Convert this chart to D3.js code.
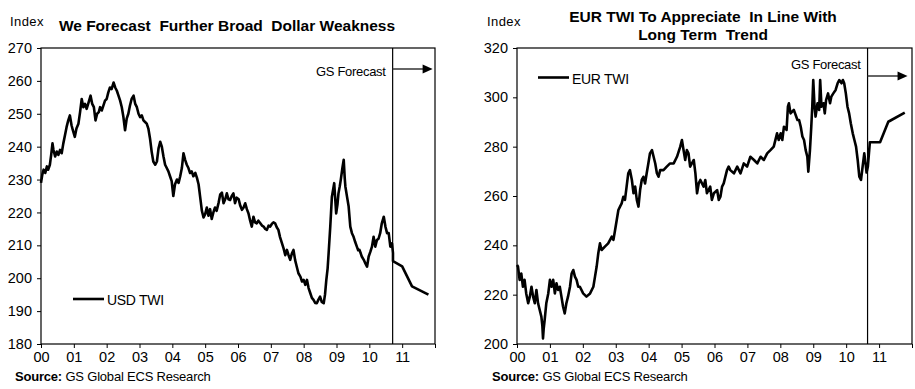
<!DOCTYPE html>
<html>
<head>
<meta charset="utf-8">
<script src="https://cdn.jsdelivr.net/npm/d3@7"></script>
<style>
  body { margin: 0; background: #fff; }
  svg { display: block; font-family: Arial, "Liberation Sans", sans-serif; }
</style>
</head>
<body>
<div id="grafico"></div>
<script>
// anos em fração desde 2000 (0 = jan/2000)
const usdAnos = [0.00,0.04,0.08,0.13,0.18,0.22,0.27,0.31,0.35,0.38,0.43,0.48,0.53,0.58,0.63,0.68,0.73,0.78,0.83,0.88,0.93,0.97,1.03,1.08,1.14,1.19,1.24,1.29,1.34,1.39,1.45,1.51,1.56,1.61,1.66,1.71,1.76,1.80,1.85,1.90,1.95,2.00,2.05,2.10,2.15,2.21,2.26,2.31,2.36,2.41,2.46,2.51,2.56,2.61,2.66,2.71,2.76,2.82,2.87,2.92,2.97,3.02,3.07,3.12,3.17,3.22,3.27,3.32,3.37,3.42,3.48,3.53,3.58,3.63,3.68,3.73,3.78,3.83,3.88,3.93,3.98,4.03,4.08,4.14,4.19,4.24,4.29,4.34,4.39,4.44,4.49,4.54,4.59,4.64,4.70,4.75,4.80,4.85,4.90,4.95,5.00,5.05,5.10,5.15,5.20,5.25,5.30,5.35,5.41,5.46,5.51,5.56,5.61,5.66,5.71,5.76,5.81,5.86,5.91,5.96,6.02,6.07,6.12,6.17,6.22,6.27,6.32,6.37,6.42,6.47,6.52,6.57,6.62,6.68,6.73,6.78,6.83,6.88,6.93,6.98,7.03,7.08,7.13,7.18,7.23,7.28,7.34,7.39,7.44,7.49,7.54,7.59,7.64,7.69,7.74,7.79,7.84,7.90,7.95,8.00,8.05,8.10,8.15,8.20,8.25,8.30,8.35,8.40,8.45,8.50,8.55,8.61,8.65,8.69,8.73,8.76,8.81,8.86,8.93,8.99,9.03,9.06,9.10,9.13,9.18,9.22,9.25,9.27,9.32,9.37,9.42,9.47,9.52,9.57,9.62,9.66,9.70,9.74,9.77,9.83,9.88,9.93,9.98,10.03,10.08,10.13,10.18,10.23,10.28,10.33,10.38,10.44,10.49,10.54,10.59,10.64,10.69,10.72];
const usdValores = [229.0,231.5,233.0,232.0,234.0,233.0,234.5,237.5,241.0,239.0,237.0,238.5,237.5,239.0,238.0,241.0,243.5,246.0,248.0,249.5,246.5,245.0,243.0,245.5,247.0,250.5,254.5,252.0,253.0,251.5,253.5,255.5,253.0,252.0,248.0,250.0,250.5,252.0,251.0,252.5,254.0,254.5,256.5,258.0,257.5,259.5,258.0,257.0,255.5,254.0,252.0,249.0,245.0,248.5,250.0,252.5,254.5,255.5,253.0,252.0,250.0,249.0,249.5,248.0,247.5,247.0,245.5,242.5,238.5,235.5,234.5,235.5,239.5,241.5,240.0,237.0,234.5,233.5,232.5,231.0,229.5,225.0,228.5,230.0,229.0,231.0,233.5,238.0,236.0,234.5,233.5,232.0,232.5,231.0,232.0,230.5,228.5,224.5,220.5,218.5,219.5,221.5,219.0,221.0,218.0,220.0,221.5,220.5,223.0,225.5,226.0,222.8,224.0,225.8,224.0,223.8,225.0,225.8,222.8,224.5,224.0,222.0,220.8,221.5,222.8,221.0,219.7,217.5,215.7,218.7,217.0,216.7,217.5,216.7,216.0,215.7,215.0,214.7,216.0,215.7,216.5,217.0,216.7,215.5,214.7,212.5,210.6,209.0,207.0,208.6,207.0,205.6,207.5,208.6,205.5,203.5,201.5,200.5,199.0,199.5,198.0,199.5,197.0,195.5,194.0,193.4,192.5,192.4,193.5,194.4,192.8,192.4,195.0,199.5,203.0,207.6,215.7,224.8,228.9,219.7,222.5,225.8,228.0,229.9,233.5,236.0,230.5,227.9,224.8,221.8,215.7,213.7,212.6,211.0,209.6,208.5,208.6,207.5,206.6,205.6,204.5,203.5,206.6,208.0,209.6,212.6,209.6,211.6,212.0,213.7,216.7,218.7,215.7,213.7,213.7,209.6,210.6,207.6];
const usdPrevAnos = [10.72, 11.00, 11.30, 11.80];
const usdPrevValores = [205.2, 203.6, 197.5, 195.0];

const eurAnos = [0.00,0.03,0.08,0.13,0.18,0.23,0.28,0.34,0.39,0.44,0.49,0.54,0.59,0.64,0.69,0.74,0.77,0.79,0.81,0.84,0.89,0.95,1.00,1.05,1.10,1.15,1.20,1.25,1.30,1.35,1.40,1.45,1.50,1.55,1.61,1.66,1.71,1.76,1.81,1.86,1.91,2.01,2.11,2.22,2.32,2.37,2.42,2.47,2.52,2.57,2.67,2.77,2.88,2.93,2.98,3.03,3.08,3.13,3.18,3.23,3.28,3.33,3.38,3.43,3.49,3.54,3.59,3.64,3.69,3.74,3.79,3.84,3.89,3.94,3.99,4.04,4.10,4.15,4.20,4.25,4.30,4.35,4.45,4.55,4.65,4.76,4.86,4.96,5.01,5.06,5.11,5.16,5.21,5.26,5.37,5.42,5.47,5.52,5.57,5.67,5.72,5.77,5.87,5.92,5.98,6.08,6.13,6.18,6.23,6.28,6.38,6.43,6.48,6.59,6.69,6.79,6.89,6.99,7.09,7.20,7.30,7.40,7.50,7.60,7.70,7.80,7.90,7.95,8.01,8.06,8.11,8.19,8.23,8.26,8.31,8.41,8.52,8.57,8.62,8.67,8.72,8.77,8.82,8.85,8.90,8.94,8.97,9.00,9.04,9.07,9.13,9.18,9.21,9.25,9.31,9.35,9.39,9.45,9.51,9.55,9.61,9.68,9.74,9.79,9.86,9.90,9.94,9.99,10.04,10.09,10.14,10.20,10.25,10.30,10.35,10.40,10.45,10.50,10.55,10.59,10.62,10.66];
const eurValores = [232.0,231.4,226.0,228.6,223.2,226.0,220.5,216.5,219.2,223.2,219.2,216.5,221.9,216.5,213.8,211.1,207.5,202.3,206.0,209.7,216.5,220.5,226.0,223.2,226.0,220.5,224.6,221.9,223.2,219.2,215.1,212.4,216.5,219.2,223.2,228.6,230.0,227.3,226.0,223.2,223.2,220.5,219.2,220.5,223.2,227.3,231.4,236.8,240.8,238.1,239.5,240.8,243.5,242.2,246.2,250.3,254.3,255.7,257.0,259.7,258.4,263.8,269.2,270.5,266.5,261.1,263.8,258.4,255.7,262.4,266.5,267.8,265.1,269.2,273.2,277.3,278.6,275.9,273.2,269.2,267.8,270.5,270.5,271.9,273.2,273.2,275.9,280.0,282.7,278.6,274.6,278.6,277.3,271.9,274.6,269.2,261.1,265.1,266.5,263.8,266.5,261.1,263.8,258.4,261.1,262.4,258.4,259.7,263.8,265.1,270.5,271.9,270.5,269.2,271.9,269.2,273.2,271.9,275.9,274.6,273.2,275.9,274.6,277.3,278.6,280.0,285.4,282.7,285.4,282.7,288.1,286.8,296.2,297.6,293.5,294.9,290.8,290.8,288.1,284.1,282.7,278.6,275.9,269.9,278.6,288.1,296.2,307.0,296.2,292.2,297.6,294.9,307.0,296.2,297.6,293.5,298.9,301.6,297.6,300.3,301.6,303.0,305.7,307.0,305.7,307.0,305.7,301.6,296.2,293.5,289.5,285.4,282.7,280.0,274.6,267.8,266.5,271.9,277.3,273.2,269.5,272.0];
const eurPrevAnos = [10.72, 11.03, 11.28, 11.78];
const eurPrevValores = [281.8, 281.8, 290.1, 293.8];

const rotulosAnos = ["00","01","02","03","04","05","06","07","08","09","10","11"];
const ticksUsd = [180,190,200,210,220,230,240,250,260,270];
const ticksEur = [200,220,240,260,280,300,320];

const largura = 915;
const altura = 389;

const svg = d3.select("#grafico")
    .append("svg")
    .attr("width", largura)
    .attr("height", altura);

// desenha um dos dois paineis
function criarPainel(cfg) {
    const x = d3.scaleLinear().domain([0, 12]).range([cfg.x0, cfg.x1]);
    const y = d3.scaleLinear().domain(cfg.dominio).range([344, 48]);
    const g = svg.append("g");

    // caixa do grafico
    g.append("rect")
        .attr("x", cfg.x0)
        .attr("y", 48)
        .attr("width", cfg.x1 - cfg.x0)
        .attr("height", 296)
        .attr("fill", "none")
        .attr("stroke", "#000")
        .attr("stroke-width", 1.2);

    // eixo y
    g.append("g")
        .attr("transform", `translate(${cfg.x0},0)`)
        .call(d3.axisLeft(y).tickValues(cfg.ticks).tickSize(4).tickPadding(5).tickFormat(d3.format("d")))
        .call(s => s.select(".domain").remove())
        .call(s => s.selectAll("line").attr("stroke", "#000"))
        .call(s => s.selectAll("text").attr("fill", "#000").style("font-size", "14.5px").style("font-family", "Arial, 'Liberation Sans', sans-serif"));

    // eixo x
    g.append("g")
        .attr("transform", "translate(0,344)")
        .call(d3.axisBottom(x).tickValues(d3.range(0, 13)).tickSize(4).tickPadding(4)
            .tickFormat(d => rotulosAnos[d] || ""))
        .call(s => s.select(".domain").remove())
        .call(s => s.selectAll("line").attr("stroke", "#000"))
        .call(s => s.selectAll("text").attr("fill", "#000").style("font-size", "14.5px").style("font-family", "Arial, 'Liberation Sans', sans-serif"));

    // linha vertical da previsao
    g.append("line")
        .attr("x1", x(cfg.corte)).attr("x2", x(cfg.corte))
        .attr("y1", 48).attr("y2", 344)
        .attr("stroke", "#000")
        .attr("stroke-width", 1.2);

    // serie historica + previsao
    const pontos = cfg.anos.map((a, i) => [a, cfg.valores[i]])
        .concat(cfg.prevAnos.map((a, i) => [a, cfg.prevValores[i]]));

    const linha = d3.line()
        .x(d => x(d[0]))
        .y(d => y(d[1]));

    g.append("path")
        .datum(pontos)
        .attr("d", linha)
        .attr("fill", "none")
        .attr("stroke", "#000")
        .attr("stroke-width", 2.6)
        .attr("stroke-linejoin", "round");

    // seta e texto GS Forecast
    g.append("line")
        .attr("x1", x(cfg.corte)).attr("x2", x(cfg.corte) + 31)
        .attr("y1", cfg.setaY).attr("y2", cfg.setaY)
        .attr("stroke", "#333")
        .attr("stroke-width", 1.5);
    g.append("path")
        .attr("d", `M${x(cfg.corte) + 30},${cfg.setaY - 4.5}L${x(cfg.corte) + 40},${cfg.setaY}L${x(cfg.corte) + 30},${cfg.setaY + 4.5}Z`)
        .attr("fill", "#000");
    g.append("text")
        .attr("x", x(cfg.corte) - 7)
        .attr("y", cfg.textoPrevY)
        .attr("text-anchor", "end")
        .style("font-size", "13px")
        .style("letter-spacing", "-0.3px")
        .text("GS Forecast");

    // legenda
    g.append("line")
        .attr("x1", cfg.legX).attr("x2", cfg.legX + 31)
        .attr("y1", cfg.legY).attr("y2", cfg.legY)
        .attr("stroke", "#000")
        .attr("stroke-width", 2.6);
    g.append("text")
        .attr("x", cfg.legX + 34)
        .attr("y", cfg.legY + 6)
        .style("font-size", "14px")
        .style("letter-spacing", "-0.3px")
        .text(cfg.legenda);

    // "Index"
    g.append("text")
        .attr("x", cfg.indexX)
        .attr("y", 26)
        .style("font-size", "13px")
        .style("letter-spacing", "0.4px")
        .text("Index");

    // titulo
    const titulo = g.append("text")
        .attr("x", cfg.tituloX)
        .attr("text-anchor", "middle")
        .style("font-size", "15.5px")
        .style("font-weight", "bold")
        .style("white-space", "pre");
    cfg.titulo.forEach((t, i) => {
        titulo.append("tspan")
            .attr("x", cfg.tituloX)
            .attr("y", cfg.tituloY + i * 18)
            .text(t);
    });

    // fonte
    const fonte = g.append("text")
        .attr("x", cfg.fonteX)
        .attr("y", 380.5)
        .style("font-size", "13px")
        .style("letter-spacing", "-0.2px");
    fonte.append("tspan").style("font-weight", "bold").text("Source: ");
    fonte.append("tspan").text("GS Global ECS Research");
}

criarPainel({
    x0: 41, x1: 435, dominio: [180, 270], ticks: ticksUsd,
    anos: usdAnos, valores: usdValores, prevAnos: usdPrevAnos, prevValores: usdPrevValores,
    corte: 10.71, setaY: 69, textoPrevY: 75.5,
    legX: 73, legY: 299, legenda: "USD TWI",
    indexX: 10, tituloX: 227, tituloY: 30.5,
    titulo: ["We Forecast  Further Broad  Dollar Weakness"],
    fonteX: 15
});

criarPainel({
    x0: 517, x1: 912, dominio: [200, 320], ticks: ticksEur,
    anos: eurAnos, valores: eurValores, prevAnos: eurPrevAnos, prevValores: eurPrevValores,
    corte: 10.65, setaY: 76, textoPrevY: 68.5,
    legX: 538, legY: 77.5, legenda: "EUR TWI",
    indexX: 487, tituloX: 703, tituloY: 21.5,
    titulo: ["EUR TWI To Appreciate  In Line With", "Long Term  Trend"],
    fonteX: 492
});
</script>
</body>
</html>
